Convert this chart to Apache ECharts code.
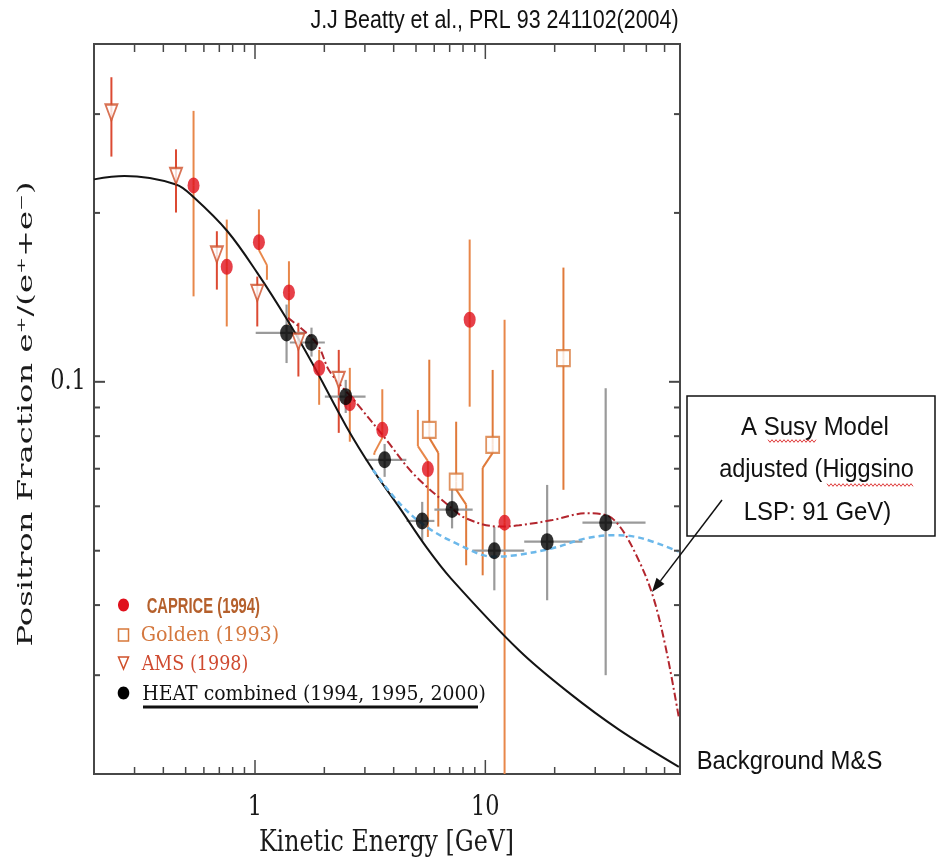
<!DOCTYPE html>
<html><head><meta charset="utf-8">
<script src="https://cdn.jsdelivr.net/npm/echarts@6/dist/echarts.min.js"></script>
<style>html,body{margin:0;padding:0;background:#fff}#c{width:937px;height:863px}</style>
</head><body><div id="c"></div>
<script>
// ---------------- data ----------------
const amsE  = [0.238, 0.454, 0.683, 1.023, 1.543, 2.31];
const amsF  = [0.302, 0.2327, 0.1686, 0.144, 0.1179, 0.1008];
const amsLo = [0.252, 0.2003, 0.146, 0.1255, 0.1022, 0.0811];
const amsHi = [0.349, 0.2596, 0.1855, 0.154, 0.1274, 0.114];

const capE  = [0.541, 0.754, 1.04, 1.404, 1.899, 2.58, 3.57, 5.63, 8.55, 12.12];
const capF  = [0.2239, 0.1603, 0.1774, 0.1443, 0.1058, 0.0916, 0.0821, 0.0699, 0.1290, 0.0561];
const capLo = [0.142, 0.1255, 0.152, 0.1264, 0.0910, 0.0782, 0.0741, 0.0529, 0.0903, 0.02];
const capHi = [0.304, 0.1946, 0.2029, 0.164, 0.114, 0.1059, 0.0970, 0.0891, 0.1793, 0.129];

const goldE  = [5.71, 7.47, 10.76, 21.83];
const goldF  = [0.0821, 0.0664, 0.0772, 0.1102];
const goldLo = [0.0552, 0.0471, 0.0452, 0.0642];
const goldHi = [0.1095, 0.0849, 0.105, 0.1598];

const heatE   = [1.371, 1.759, 2.477, 3.654, 5.32, 7.17, 10.94, 18.55, 33.3];
const heatF   = [0.1222, 0.1175, 0.0941, 0.0726, 0.0565, 0.0592, 0.050, 0.0519, 0.0561];
const heatLo  = [0.108, 0.1109, 0.088, 0.0677, 0.0522, 0.0548, 0.0425, 0.0408, 0.030];
const heatHi  = [0.1373, 0.1249, 0.1008, 0.0775, 0.0611, 0.0646, 0.0551, 0.0655, 0.0974];
const heatELo = [1.007, 1.417, 2.01, 3.02, 4.55, 6.01, 8.79, 14.75, 26.4];
const heatEHi = [1.674, 2.01, 3.02, 4.54, 6.01, 8.81, 14.75, 26.4, 49.6];

const bgE = [0.2, 0.271, 0.454, 0.545, 0.759, 1.023, 1.38, 1.771, 2.494, 3.25, 4.245, 5.535, 7.10, 14.03, 23.1, 38.0, 69.2];
const bgF = [0.2295, 0.2326, 0.2248, 0.2128, 0.1855, 0.1564, 0.129, 0.108, 0.0832, 0.0697, 0.0596, 0.0508, 0.0446, 0.0332, 0.0279, 0.0240, 0.0206];

const susyE = [1.39, 1.85, 2.112, 2.76, 3.717, 4.845, 6.76, 8.25, 11.5, 14.03, 19.55, 27.3, 33.3, 38.0, 44.9, 53.0, 60.6, 69.2];
const susyF = [0.130, 0.1172, 0.1043, 0.0916, 0.0788, 0.0687, 0.0607, 0.0571, 0.0552, 0.0555, 0.0567, 0.0583, 0.0579, 0.0555, 0.0494, 0.0419, 0.0337, 0.0252];

const blueE = [3.25, 4.245, 5.535, 7.72, 10.76, 13.58, 19.55, 27.3, 36.8, 48.0, 69.2];
const blueF = [0.0697, 0.0607, 0.0552, 0.0512, 0.0488, 0.0491, 0.0505, 0.0526, 0.0533, 0.0526, 0.0498];

const xTickMajor = [1, 10];
const xTickMinor = [0.3, 0.4, 0.5, 0.6, 0.7, 0.8, 0.9, 2, 3, 4, 5, 6, 7, 8, 9, 20, 30, 40, 50, 60];
const yTickMajor = [0.1];
const yTickMinor = [0.03, 0.04, 0.05, 0.06, 0.07, 0.08, 0.09, 0.2, 0.3];
const xLabelVals = [1, 10];
const xLabelTexts = ['1', '10'];
const yLabelVals = [0.1];
const yLabelTexts = ['0.1'];

const legendNames = ['CAPRICE (1994)', 'Golden (1993)', 'AMS (1998)', 'HEAT combined (1994, 1995, 2000)'];
const titleText = 'J.J Beatty et al., PRL 93 241102(2004)';
const xTitle = 'Kinetic Energy [GeV]';
const yTitle = 'Positron Fraction e\u207A/(e\u207A+e\u207B)';
const bgLabel = 'Background M&S';
const noteLines = ['A Susy Model', 'adjusted (Higgsino', 'LSP: 91 GeV)'];

// drawing style only: error bars drawn with a sideways jog (side, pixel shift) to avoid overlaps
const capJog  = {2: ['lo', 8], 6: ['lo', -8], 7: ['hi', -10]};
const goldJog = {0: ['lo', 9], 1: ['lo', 10], 2: ['lo', -10]};

// ---------------- helpers ----------------
const mctx = document.createElement('canvas').getContext('2d');
const CAP = {'Liberation Sans': 0.716, 'DejaVu Serif': 0.729, 'Liberation Serif': 0.662};
function fit(text, family, weight, cap, w) {
  const size = cap / CAP[family];
  const font = weight + ' ' + size.toFixed(2) + 'px "' + family + '"';
  mctx.font = font;
  const m = mctx.measureText(text);
  const ink = (m.actualBoundingBoxLeft || 0) + (m.actualBoundingBoxRight || m.width);
  return {font, scaleX: w ? w / ink : 1};
}
function textEl(text, cx, cy, cap, w, family, weight, fill, rotation) {
  const f = fit(text, family, weight, cap, w);
  return {type: 'text', x: cx, y: cy, rotation: rotation || 0, scaleX: f.scaleX, z: 100,
    style: {text, font: f.font, fill, align: 'center', verticalAlign: 'middle',
            textAlign: 'center', textVerticalAlign: 'middle'}};
}
function seg(x1, y1, x2, y2, color, width) {
  return {type: 'line', shape: {x1, y1, x2, y2}, style: {stroke: color, lineWidth: width}};
}
function errRender(color, width, jogs) {
  return function (params, api) {
    const e = api.value(0), f = api.value(1), lo = api.value(2), hi = api.value(3);
    const c = api.coord([e, f]), a = api.coord([e, lo]), b = api.coord([e, hi]);
    const jog = jogs && jogs[params.dataIndex];
    const ch = [];
    // lower part
    if (jog && jog[0] === 'lo') {
      const dx = jog[1];
      ch.push(seg(c[0], c[1], c[0], c[1] + 8, color, width));
      ch.push(seg(c[0], c[1] + 8, c[0] + dx, c[1] + 23, color, width));
      ch.push(seg(c[0] + dx, c[1] + 23, c[0] + dx, a[1], color, width));
    } else {
      ch.push(seg(c[0], c[1], a[0], a[1], color, width));
    }
    // upper part
    if (jog && jog[0] === 'hi') {
      const dx = jog[1];
      ch.push(seg(c[0], c[1], c[0], c[1] - 8, color, width));
      ch.push(seg(c[0], c[1] - 8, c[0] + dx, c[1] - 23, color, width));
      ch.push(seg(c[0] + dx, c[1] - 23, c[0] + dx, b[1], color, width));
    } else {
      ch.push(seg(c[0], c[1], b[0], b[1], color, width));
    }
    const xl = api.value(4), xh = api.value(5);
    if (xl > 0 && xh > 0) {
      const l = api.coord([xl, f]), r = api.coord([xh, f]);
      ch.push(seg(l[0], l[1], r[0], r[1], color, width));
    }
    return {type: 'group', children: ch};
  };
}
const FRAME = '#474747';
const tickLbl = fit('0.1', 'DejaVu Serif', 'normal', 20, 32);

const xTickData = xTickMajor.map(v => [v, 0.1, 1]).concat(xTickMinor.map(v => [v, 0.1, 0]));
const yTickData = yTickMajor.map(v => [1, v, 1]).concat(yTickMinor.map(v => [1, v, 0]));

function renderXTick(params, api) {
  const p = api.coord([api.value(0), 0.1]);
  const cs = params.coordSys;
  const major = api.value(2) === 1;
  const lb = major ? 14 : 7, lt = major ? 15 : 8;
  const bot = cs.y + cs.height, top = cs.y;
  return {type: 'group', children: [
    seg(p[0], bot, p[0], bot - lb, FRAME, 1.5),
    seg(p[0], top, p[0], top + lt, FRAME, 1.5)
  ]};
}
function renderYTick(params, api) {
  const p = api.coord([1, api.value(1)]);
  const cs = params.coordSys;
  const len = api.value(2) === 1 ? 11 : 6;
  const l = cs.x, r = cs.x + cs.width;
  return {type: 'group', children: [
    seg(l, p[1], l + len, p[1], FRAME, 2),
    seg(r, p[1], r - len, p[1], FRAME, 2)
  ]};
}
function renderXLabel(params, api) {
  const p = api.coord([api.value(0), 0.1]);
  const cs = params.coordSys;
  return {type: 'text', x: p[0], y: cs.y + cs.height + 34, scaleX: tickLbl.scaleX,
    style: {text: xLabelTexts[params.dataIndex], font: tickLbl.font, fill: '#1a1a1a',
            align: 'center', verticalAlign: 'middle', textAlign: 'center', textVerticalAlign: 'middle'}};
}
function renderYLabel(params, api) {
  const p = api.coord([1, api.value(1)]);
  const cs = params.coordSys;
  return {type: 'text', x: cs.x - 26, y: p[1], scaleX: tickLbl.scaleX,
    style: {text: yLabelTexts[params.dataIndex], font: tickLbl.font, fill: '#1a1a1a',
            align: 'center', verticalAlign: 'middle', textAlign: 'center', textVerticalAlign: 'middle'}};
}

// colours
const C_CAP = '#e0101c', C_CAP_ERR = '#e8874a';
const C_GOLD = '#d8783a', C_GOLD_ERR = '#e07a3a';
const C_AMS = '#d0502a', C_AMS_ERR = '#dc4a32';
const C_HEAT_ERR = '#9a9a9a';

// ---------------- graphics (annotations, legend) ----------------
const graphics = [];
graphics.push(textEl(titleText, 494.5, 21, 18, 367, 'Liberation Sans', 'normal', '#111'));
graphics.push(textEl(xTitle, 386.5, 843, 22, 253, 'DejaVu Serif', 'normal', '#1a1a1a'));
graphics.push(textEl(yTitle, 27, 414, 15, 462, 'DejaVu Serif', 'normal', '#1a1a1a', Math.PI / 2));
graphics.push(textEl(bgLabel, 789.5, 762, 18, 183, 'Liberation Sans', 'normal', '#111'));
// note box
graphics.push({type: 'rect', z: 99, shape: {x: 687, y: 396, width: 248, height: 140},
  style: {fill: '#fff', stroke: '#111', lineWidth: 1.5}});
graphics.push(textEl(noteLines[0], 815, 428, 19, 147, 'Liberation Sans', 'normal', '#111'));
graphics.push(textEl(noteLines[1], 816.5, 470, 19, 193, 'Liberation Sans', 'normal', '#111'));
graphics.push(textEl(noteLines[2], 817.5, 513, 19, 145, 'Liberation Sans', 'normal', '#111'));
function squiggle(x0, x1, y) {
  const pts = [];
  for (let x = x0, k = 0; x <= x1; x += 2, k++) pts.push([x, y + (k % 2 ? 1.3 : -1.3)]);
  return {type: 'polyline', z: 101, shape: {points: pts}, style: {stroke: '#e03a3a', lineWidth: 1, fill: null}};
}
graphics.push(squiggle(768, 817, 441));
graphics.push(squiggle(827, 913, 485));
// arrow
(function () {
  const x0 = 722, y0 = 500, x1 = 652, y1 = 592;
  const dx = x1 - x0, dy = y1 - y0, L = Math.hypot(dx, dy), ux = dx / L, uy = dy / L;
  const bx = x1 - 14 * ux, by = y1 - 14 * uy, px = -uy, py = ux;
  graphics.push({type: 'line', z: 102, shape: {x1: x0, y1: y0, x2: bx, y2: by}, style: {stroke: '#111', lineWidth: 1.5}});
  graphics.push({type: 'polygon', z: 102, shape: {points: [[x1, y1], [bx + 5 * px, by + 5 * py], [bx - 5 * px, by - 5 * py]]},
    style: {fill: '#111'}});
})();
// legend
graphics.push({type: 'ellipse', z: 100, shape: {cx: 123.5, cy: 605, rx: 5.5, ry: 6.5}, style: {fill: C_CAP}});
graphics.push({type: 'rect', z: 100, shape: {x: 118.5, y: 629, width: 10, height: 12}, style: {fill: '#fff', stroke: C_GOLD, lineWidth: 1.5}});
graphics.push({type: 'polygon', z: 100, shape: {points: [[118.5, 657], [128.5, 657], [123.5, 669]]}, style: {fill: '#fff', stroke: C_AMS, lineWidth: 1.5}});
graphics.push({type: 'ellipse', z: 100, shape: {cx: 123.5, cy: 693, rx: 5.8, ry: 6.5}, style: {fill: '#000'}});
graphics.push(textEl(legendNames[0], 203.3, 606.5, 16, 113, 'Liberation Sans', 'bold', '#b5602c'));
graphics.push(textEl(legendNames[1], 210, 636, 15, 136.6, 'DejaVu Serif', 'normal', '#d4783f'));
graphics.push(textEl(legendNames[2], 195, 664.5, 15, 106.6, 'DejaVu Serif', 'normal', '#cf4a30'));
graphics.push(textEl(legendNames[3], 314, 694.5, 15, 341.7, 'DejaVu Serif', 'normal', '#111'));
graphics.push({type: 'line', z: 100, shape: {x1: 143, y1: 707, x2: 478, y2: 707}, style: {stroke: '#111', lineWidth: 3}});

// ---------------- chart ----------------
const chart = echarts.init(document.getElementById('c'), null, {renderer: 'canvas'});
const axisCommon = {type: 'log', logBase: 10, axisLine: {show: false}, axisTick: {show: false},
  axisLabel: {show: false}, splitLine: {show: false}, minorTick: {show: false}};
chart.setOption({
  animation: false,
  backgroundColor: '#fff',
  grid: {left: 94, right: 257, top: 44, bottom: 89, show: true, borderColor: FRAME, borderWidth: 2,
         backgroundColor: 'transparent'},
  xAxis: Object.assign({min: 0.2, max: 70}, axisCommon),
  yAxis: Object.assign({min: 0.02, max: 0.4}, axisCommon),
  graphic: {elements: graphics},
  series: [
    {type: 'custom', name: 'xticks', data: xTickData, renderItem: renderXTick, z: 6, silent: true},
    {type: 'custom', name: 'yticks', data: yTickData, renderItem: renderYTick, z: 6, silent: true},
    {type: 'custom', name: 'xlabels', data: xLabelVals.map(v => [v, 0.1]), renderItem: renderXLabel, z: 6, silent: true},
    {type: 'custom', name: 'ylabels', data: yLabelVals.map(v => [1, v]), renderItem: renderYLabel, z: 6, silent: true},
    {type: 'line', name: 'Background M&S', data: bgE.map((e, i) => [e, bgF[i]]), smooth: 0.35,
      symbol: 'none', lineStyle: {color: '#141414', width: 2}, z: 3, silent: true},
    {type: 'line', name: 'Susy', data: susyE.map((e, i) => [e, susyF[i]]), smooth: 0.35,
      symbol: 'none', lineStyle: {color: '#b3262e', width: 2, type: [8, 3, 2, 3]}, z: 3, silent: true},
    {type: 'line', name: 'Susy2', data: blueE.map((e, i) => [e, blueF[i]]), smooth: 0.35,
      symbol: 'none', lineStyle: {color: '#6cb8ea', width: 2.5, type: [6, 4]}, z: 3, silent: true},
    {type: 'custom', name: 'ams err', data: amsE.map((e, i) => [e, amsF[i], amsLo[i], amsHi[i]]),
      renderItem: errRender(C_AMS_ERR, 2), z: 2, silent: true},
    {type: 'custom', name: 'cap err', data: capE.map((e, i) => [e, capF[i], capLo[i], capHi[i]]),
      renderItem: errRender(C_CAP_ERR, 2, capJog), z: 2, silent: true},
    {type: 'custom', name: 'gold err', data: goldE.map((e, i) => [e, goldF[i], goldLo[i], goldHi[i]]),
      renderItem: errRender(C_GOLD_ERR, 2, goldJog), z: 2, silent: true},
    {type: 'custom', name: 'heat err', dimensions: ['e', 'f', 'lo', 'hi', 'xlo', 'xhi'],
      data: heatE.map((e, i) => [e, heatF[i], heatLo[i], heatHi[i], heatELo[i], heatEHi[i]]),
      renderItem: errRender(C_HEAT_ERR, 2.2), z: 2, silent: true},
    {type: 'scatter', name: 'AMS (1998)', data: amsE.map((e, i) => [e, amsF[i]]), symbol: 'triangle',
      symbolRotate: 180, symbolSize: [12, 16], itemStyle: {color: '#fff', borderColor: C_AMS, borderWidth: 2}, z: 4, silent: true},
    {type: 'scatter', name: 'Golden (1993)', data: goldE.map((e, i) => [e, goldF[i]]), symbol: 'rect',
      symbolSize: [13, 16], itemStyle: {color: '#fff', borderColor: C_GOLD, borderWidth: 2}, z: 4, silent: true},
    {type: 'scatter', name: 'CAPRICE (1994)', data: capE.map((e, i) => [e, capF[i]]), symbol: 'circle',
      symbolSize: [12, 16], itemStyle: {color: C_CAP}, z: 4, silent: true},
    {type: 'scatter', name: 'HEAT', data: heatE.map((e, i) => [e, heatF[i]]), symbol: 'circle',
      symbolSize: [13, 17], itemStyle: {color: '#000'}, z: 5, silent: true}
  ]
});
</script></body></html>
